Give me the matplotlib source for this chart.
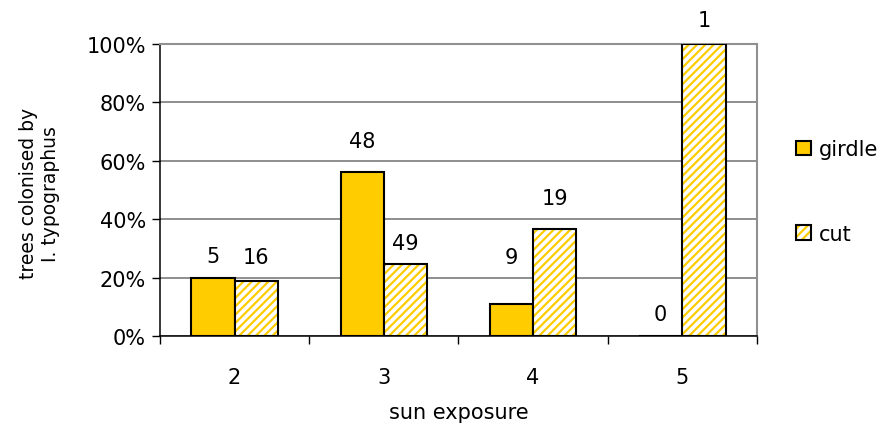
import numpy as np
import matplotlib
matplotlib.use("Agg")
import matplotlib.pyplot as plt
from matplotlib.patches import Patch

plt.rcParams['font.family'] = ['DejaVu Sans']
plt.rcParams['hatch.linewidth'] = 1.6

# sun exposure classes
exposure = ['2', '3', '4', '5']
# share of trees colonised (%)
girdle_pct = [20.0, 56.25, 11.1, 0.0]
cut_pct = [18.75, 24.5, 36.8, 100.0]
# number of trees per group
girdle_n = [5, 48, 9, 0]
cut_n = [16, 49, 19, 1]

# label offsets above the bars (points)
girdle_off = [8.6, 14.6, 26, 8.6]
cut_off = [10.6, 8.6, 14.6, 10]

yellow = '#FFCC00'
bar_w = 0.29
edge_lw = 1.5

fig = plt.figure(figsize=(8.8, 4.27), dpi=100)
ax = fig.add_axes([0.1818, 0.2108, 0.6784, 0.6838])

x = np.arange(len(exposure))
xg = x - bar_w / 2
xc = x + bar_w / 2

ax.bar(xg, girdle_pct, bar_w, color=yellow, edgecolor='black', linewidth=edge_lw, zorder=3)
# hatched bars: yellow stripes on white, black outline drawn on top
ax.bar(xc, cut_pct, bar_w, color='white', edgecolor=yellow, hatch='////', linewidth=0, zorder=3)
ax.bar(xc, cut_pct, bar_w, fill=False, edgecolor='black', linewidth=edge_lw, zorder=4)

for xi, v, n, off in zip(xg, girdle_pct, girdle_n, girdle_off):
    ax.annotate(str(n), (xi, v), xytext=(0, off), textcoords='offset points',
                ha='center', va='bottom', fontsize=15)
for xi, v, n, off in zip(xc, cut_pct, cut_n, cut_off):
    ax.annotate(str(n), (xi, v), xytext=(0, off), textcoords='offset points',
                ha='center', va='bottom', fontsize=15, annotation_clip=False)

ax.set_xlim(-0.5, len(exposure) - 0.5)
ax.set_ylim(0, 100)
ax.set_yticks(np.arange(0, 101, 20))
ax.set_yticklabels([f'{t}%' for t in range(0, 101, 20)], fontsize=15)
ax.set_xticks(x)
ax.set_xticklabels(exposure, fontsize=15)
ax.set_xticks(np.arange(-0.5, len(exposure), 1), minor=True)
ax.tick_params(axis='x', which='major', length=0, pad=22)
ax.tick_params(axis='x', which='minor', length=6, width=1, direction='out')
ax.tick_params(axis='y', length=6, width=1, direction='out', pad=4)

ax.yaxis.grid(True, color='#707070', linewidth=1.1, zorder=0)
ax.set_axisbelow(True)
for side in ['top', 'right']:
    ax.spines[side].set_color('#909090')
    ax.spines[side].set_linewidth(1.5)
for side in ['left', 'bottom']:
    ax.spines[side].set_color('black')
    ax.spines[side].set_linewidth(1.1)

ax.set_xlabel('sun exposure', fontsize=15)
ax.xaxis.set_label_coords(0.5, -0.225)
ax.set_ylabel('trees colonised by\nI. typographus', fontsize=13.5)
ax.yaxis.set_label_coords(-0.168, 0.49)

h_girdle = Patch(facecolor=yellow, edgecolor='black', linewidth=edge_lw)
h_cut = (Patch(facecolor='white', edgecolor=yellow, hatch='////', linewidth=0),
         Patch(fill=False, edgecolor='black', linewidth=edge_lw))
fig.legend([h_girdle, h_cut], ['girdle', 'cut'], loc='center left',
           bbox_to_anchor=(0.9045, 0.549), frameon=False, fontsize=15,
           borderpad=0, borderaxespad=0,
           handlelength=0.72, handleheight=0.72, handletextpad=0.4,
           labelspacing=3.1)

fig.savefig('out.png', dpi=100)
